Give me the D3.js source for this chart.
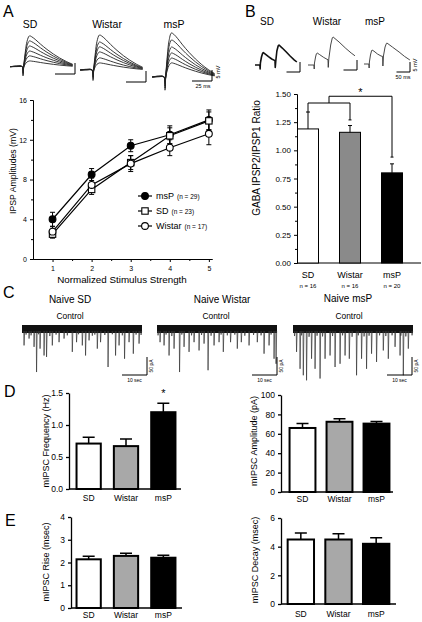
<!DOCTYPE html>
<html><head><meta charset="utf-8">
<script src="https://cdn.jsdelivr.net/npm/d3@7"></script>
<style>
body{margin:0;background:#fff}
svg{display:block}
text{font-family:"Liberation Sans",Arial,sans-serif;fill:#000}
</style>
</head><body>
<svg id="c" width="422" height="622"></svg>
<script>
// ---------------- DATA ----------------
const groups = ["SD", "Wistar", "msP"];

// Panel A: IPSP amplitude vs normalized stimulus strength
const stimStrength = [1, 2, 3, 4, 5];
const stimMinor = [1.5, 2.5, 3.5, 4.5];
const ipspTicks = [0, 4, 8, 12, 16];
const ipspMinorTicks = [2, 6, 10, 14];
const ipspMsP = [4.0, 8.5, 11.4, 12.5, 14.0];
const ipspMsPErr = [0.7, 0.6, 0.6, 0.9, 1.0];
const ipspSD = [2.5, 7.0, 9.7, 12.4, 13.9];
const ipspSDErr = [0.4, 0.5, 0.7, 0.8, 0.9];
const ipspWistar = [2.75, 7.45, 9.6, 11.2, 12.6];
const ipspWistarErr = [0.5, 0.7, 0.8, 0.8, 1.1];
const legendNames = ["msP", "SD", "Wistar"];
const legendN = ["(n = 29)", "(n = 23)", "(n = 17)"];

// Panel A example traces: [ms from onset, normalized amplitude], peak amplitudes (mV)
const traceAShape = [[-16,0],[-8,0.02],[-1,0],[0,-0.3],[1,0.05],[3,0.5],[5,0.82],[8,1.0],[11,0.97],[16,0.87],[22,0.73],[30,0.56],[38,0.41],[46,0.28],[54,0.17],[62,0.08]];
const traceAPeaksSD = [14, 11.7, 9.4, 7.1, 4.9, 2.6];
const traceAPeaksWistar = [15.9, 12.7, 10.5, 8.2, 5.5, 3.2];
const traceAPeaksMsP = [20, 16.8, 13.6, 10.9, 8.6, 6.4];

// Panel B: paired-pulse ratio
const ratioVals = [1.19, 1.16, 0.80];
const ratioErr = [0.15, 0.06, 0.08];
const ratioTicks = [0, 0.25, 0.5, 0.75, 1.0, 1.25, 1.5];
const ratioMinor = [0.125, 0.375, 0.625, 0.875, 1.125, 1.375];
const ratioN = ["n = 16", "n = 16", "n = 20"];
const bracketLevels = [1.42, 1.48];
const bracketMsPEnd = 0.94;

// Panel B example traces: [ms, mV]
const traceBSD = [[0,0],[18,0],[19,-2],[20,1],[24,4],[28,5.8],[31,6.2],[37,5.6],[50,4.2],[62,3],[74,2.2],[75,-1.2],[77,2],[81,7],[86,9.6],[89,10],[100,8.6],[115,6.6],[130,4.5],[145,2.6],[155,1.5]];
const traceBWistar = [[0,0],[22,0],[23,-2],[24,1],[28,4],[31,5.6],[34,6],[42,5.3],[58,3.8],[74,2.6],[75,-1.2],[77,3],[84,10],[90,13.6],[93,14],[115,11.5],[140,8.3],[160,6],[174,4.6]];
const traceBMsP = [[0,0],[18,0],[19,-2],[20,1],[24,4.5],[28,6.6],[30,7],[37,6.4],[50,5],[63,4],[69,3.8],[70,-1],[72,4],[78,8.5],[83,10.3],[85,10.5],[105,8.5],[130,6],[150,3.8],[170,2]];

// Panel C: mIPSC events [sec, pA]
const eventsSD = [[0.7,40],[2.7,21],[4.7,44],[5.7,114],[7.1,49],[8.7,68],[9.7,72],[12,40],[14.7,31],[16.7,21],[20,58],[21.7,31],[24,40],[25.3,68],[26.7,26],[30,49],[31.3,31],[34.3,100],[37.3,68],[38.7,40],[40.9,77],[42.7,31],[44.4,63],[46.7,35]];
const smallSD = [[1.5,10],[3.5,12],[6.5,9],[11,14],[13.5,10],[18,12],[22.5,9],[28,13],[29,10],[33,11],[36,9],[40,12],[45.5,10],[47.5,11]];
const eventsWistar = [[1.1,31],[2.7,40],[4.7,68],[6.7,49],[8.9,114],[10.7,44],[12.7,58],[14.7,31],[16.7,54],[18.7,35],[20.3,109],[22.7,40],[24.7,31],[26.4,58],[29.3,31],[32,49],[33.6,31],[36.7,40],[40,31],[42.7,63],[44.7,40],[46.7,77],[47.5,91]];
const smallWistar = [[0.3,12],[3.5,10],[5.8,14],[9.8,10],[13.7,12],[17.7,11],[21.5,13],[25.5,10],[28,12],[31,10],[35,13],[38.5,11],[41.5,12],[45.5,10]];
const eventsMsP = [[1.3,58],[2.7,105],[4,123],[5.3,137],[7.3,77],[8.7,105],[10.7,132],[12.7,77],[14.7,68],[16.7,100],[18.7,91],[20.7,68],[22.4,77],[25.3,123],[27.3,77],[29.3,105],[31.3,63],[33.3,86],[36,54],[38,77],[40.7,44],[42.7,68],[44,123],[46,49]];
const smallMsP = [[0.5,14],[3.3,12],[6.3,16],[9.5,13],[11.7,15],[15.7,14],[19.7,12],[23.5,16],[26,12],[28.3,15],[30.3,13],[34.5,12],[37,14],[39.5,12],[43,13],[45,15],[47.5,12]];

// Panels D and E
const freqVals = [0.71, 0.67, 1.20];
const freqErr = [0.10, 0.11, 0.14];
const freqTicks = [0, 0.5, 1.0, 1.5];
const ampVals = [66, 72.4, 70.5];
const ampErr = [4.5, 3.0, 2.3];
const ampTicks = [0, 20, 40, 60, 80, 100];
const riseVals = [2.14, 2.29, 2.21];
const riseErr = [0.13, 0.12, 0.11];
const riseTicks = [0, 1, 2, 3, 4];
const decayVals = [4.5, 4.5, 4.2];
const decayErr = [0.45, 0.4, 0.42];
const decayTicks = [0, 2, 4, 6];

// ---------------- DRAWING ----------------
const svg = d3.select("#c");
const F = '"Liberation Sans", Arial, sans-serif';

function txt(parent, x, y, s, size, anchor, extra) {
  const t = parent.append("text").attr("x", x).attr("y", y).attr("font-size", size)
    .attr("text-anchor", anchor || "start").attr("font-family", F).text(s);
  if (extra) extra(t);
  return t;
}
function rtxt(parent, x, y, s, size) {
  return parent.append("text").attr("transform", `translate(${x},${y}) rotate(-90)`)
    .attr("text-anchor", "middle").attr("font-size", size).attr("font-family", F).text(s);
}
function styleAxis(sel, fs, sw) {
  sel.attr("font-size", null).attr("font-family", null);
  sel.selectAll("text").attr("font-size", fs).attr("font-family", F).attr("fill", "#000");
  sel.selectAll("path,line").attr("stroke", "#000").attr("stroke-width", sw);
}

// Panel letters
[["A", 3, 17], ["B", 245, 17], ["C", 3, 298], ["D", 4, 397], ["E", 5, 526]].forEach(d =>
  txt(svg, d[1], d[2], d[0], 16, "start"));

// ===== Panel A traces =====
const gAT = svg.append("g");
[["SD", 30, 28], ["Wistar", 107, 28], ["msP", 174, 28]].forEach(d => txt(gAT, d[1], d[2], d[0], 10.5, "middle"));
function drawTraceA(peaks, onsetX, baseY, barX, barY) {
  const xs = d3.scaleLinear().domain([0, 25]).range([onsetX, onsetX + 20]);
  const ys = d3.scaleLinear().domain([0, 5]).range([baseY, baseY - 11]);
  const line = d3.line().x(d => xs(d[0])).y(d => ys(d[1])).curve(d3.curveCatmullRom);
  peaks.forEach(p => {
    gAT.append("path").attr("d", line(traceAShape.map(s => [s[0], s[1] * p])))
      .attr("fill", "none").attr("stroke", "#222").attr("stroke-width", 0.9);
  });
  const hl = xs(25) - xs(0), vl = ys(0) - ys(5);
  gAT.append("path").attr("d", `M${barX - hl},${barY}H${barX}V${barY - vl}`)
    .attr("fill", "none").attr("stroke", "#000").attr("stroke-width", 1);
}
drawTraceA(traceAPeaksSD, 23, 66.7, 75, 74);
drawTraceA(traceAPeaksWistar, 93, 70, 146, 82);
drawTraceA(traceAPeaksMsP, 165, 77, 212, 81);
txt(gAT, 203, 88, "25 ms", 5.5, "middle");
rtxt(gAT, 220, 72, "5 mV", 5.5);

// ===== Panel A chart =====
const gA = svg.append("g");
const xA = d3.scaleLinear().domain([0.5, 5.08]).range([33, 212]);
const yA = d3.scaleLinear().domain([0, 16]).range([259, 100]);
gA.append("g").attr("transform", "translate(33,0)")
  .call(d3.axisLeft(yA).tickValues(ipspMinorTicks).tickSize(2).tickSizeOuter(0).tickFormat(""))
  .call(s => styleAxis(s, 7, 1));
gA.append("g").attr("transform", "translate(33,0)")
  .call(d3.axisLeft(yA).tickValues(ipspTicks).tickSize(3).tickSizeOuter(0).tickPadding(3).tickFormat(d3.format("d")))
  .call(s => styleAxis(s, 7, 1));
gA.append("g").attr("transform", "translate(0,259)")
  .call(d3.axisBottom(xA).tickValues(stimMinor).tickSize(2).tickSizeOuter(0).tickFormat(""))
  .call(s => styleAxis(s, 7, 1));
gA.append("g").attr("transform", "translate(0,259)")
  .call(d3.axisBottom(xA).tickValues(stimStrength).tickSize(3).tickSizeOuter(0).tickPadding(4).tickFormat(d3.format("d")))
  .call(s => styleAxis(s, 7, 1));
txt(gA, 122, 283, "Normalized Stimulus Strength", 9.8, "middle");
rtxt(gA, 16, 171, "IPSP Amplitudes (mV)", 8.7);

const seriesA = [
  { vals: ipspMsP, errs: ipspMsPErr, shape: "circle", fill: "#000" },
  { vals: ipspSD, errs: ipspSDErr, shape: "square", fill: "#fff" },
  { vals: ipspWistar, errs: ipspWistarErr, shape: "circle", fill: "#fff" }
];
const lineA = d3.line().x((d, i) => xA(stimStrength[i])).y(d => yA(d));
seriesA.forEach(s => {
  gA.append("path").attr("d", lineA(s.vals)).attr("fill", "none").attr("stroke", "#000").attr("stroke-width", 1.2);
});
seriesA.forEach(s => {
  s.vals.forEach((v, i) => {
    const x = xA(stimStrength[i]);
    gA.append("path").attr("d", `M${x},${yA(v - s.errs[i])}V${yA(v + s.errs[i])}M${x - 2.5},${yA(v + s.errs[i])}h5M${x - 2.5},${yA(v - s.errs[i])}h5`)
      .attr("stroke", "#000").attr("stroke-width", 1).attr("fill", "none");
  });
});
function marker(g, shape, x, y, fill) {
  if (shape === "circle") g.append("circle").attr("cx", x).attr("cy", y).attr("r", 3.4).attr("fill", fill).attr("stroke", "#000").attr("stroke-width", 1.1);
  else g.append("rect").attr("x", x - 3.2).attr("y", y - 3.2).attr("width", 6.4).attr("height", 6.4).attr("fill", fill).attr("stroke", "#000").attr("stroke-width", 1.1);
}
seriesA.forEach(s => s.vals.forEach((v, i) => marker(gA, s.shape, xA(stimStrength[i]), yA(v), s.fill)));
// legend
[196, 211, 226].forEach((ly, i) => {
  gA.append("line").attr("x1", 138).attr("x2", 152).attr("y1", ly).attr("y2", ly).attr("stroke", "#000").attr("stroke-width", 1.2);
  marker(gA, seriesA[i].shape, 145, ly, seriesA[i].fill);
  const t = txt(gA, 156, ly + 3.2, legendNames[i], 9, "start");
  t.append("tspan").attr("font-size", 6.5).attr("dx", 3).text(legendN[i]);
});

// ===== Panel B traces =====
const gBT = svg.append("g");
[["SD", 267, 25], ["Wistar", 327, 25], ["msP", 375, 25]].forEach(d => txt(gBT, d[1], d[2], d[0], 10, "middle"));
function drawTraceB(pts, startX, baseY, sw, col, barX, barY) {
  const xs = d3.scaleLinear().domain([0, 50]).range([startX, startX + 13.5]);
  const ys = d3.scaleLinear().domain([0, 5]).range([baseY, baseY - 10]);
  const line = d3.line().x(d => xs(d[0])).y(d => ys(d[1]));
  gBT.append("path").attr("d", line(pts)).attr("fill", "none").attr("stroke", col).attr("stroke-width", sw).attr("stroke-linejoin", "round");
  const hl = xs(50) - xs(0), vl = ys(0) - ys(5);
  gBT.append("path").attr("d", `M${barX - hl},${barY}H${barX}V${barY - vl}`).attr("fill", "none").attr("stroke", "#000").attr("stroke-width", 1);
}
drawTraceB(traceBSD, 255, 65, 1.6, "#111", 300, 72);
drawTraceB(traceBWistar, 308, 65, 0.9, "#333", 357, 70);
drawTraceB(traceBMsP, 364, 64, 0.9, "#333", 410, 72);
txt(gBT, 403, 79, "50 ms", 5.5, "middle");
rtxt(gBT, 417, 65, "5 mV", 5.5);

// ===== Panel B chart =====
const gB = svg.append("g");
const yB = d3.scaleLinear().domain([0, 1.5]).range([263, 94]);
const xB = d3.scaleBand().domain(groups).range([287, 413]).paddingInner(0.5).paddingOuter(0.25);
gB.append("g").attr("transform", "translate(297,0)")
  .call(d3.axisLeft(yB).tickValues(ratioMinor).tickSize(2).tickSizeOuter(0).tickFormat(""))
  .call(s => styleAxis(s, 8, 1));
gB.append("g").attr("transform", "translate(297,0)")
  .call(d3.axisLeft(yB).tickValues(ratioTicks).tickSize(3).tickSizeOuter(0).tickPadding(3).tickFormat(d3.format(".2f")))
  .call(s => styleAxis(s, 8, 1));
gB.append("line").attr("x1", 297).attr("x2", 421).attr("y1", yB(0)).attr("y2", yB(0)).attr("stroke", "#000").attr("stroke-width", 1);
const fillsB = ["#ffffff", "#8a8a8a", "#000000"];
groups.forEach((gname, i) => {
  const x = xB(gname), w = xB.bandwidth(), c = x + w / 2;
  gB.append("rect").attr("x", x).attr("y", yB(ratioVals[i])).attr("width", w).attr("height", yB(0) - yB(ratioVals[i]))
    .attr("fill", fillsB[i]).attr("stroke", "#000").attr("stroke-width", 1);
  gB.append("path").attr("d", `M${c},${yB(ratioVals[i])}V${yB(ratioVals[i] + ratioErr[i])}M${c - 2},${yB(ratioVals[i] + ratioErr[i])}h4`)
    .attr("stroke", "#000").attr("stroke-width", 1).attr("fill", "none");
  txt(gB, c, 278, gname, 9, "middle");
  txt(gB, c, 288, ratioN[i], 6, "middle");
});
{
  const cSD = xB("SD") + xB.bandwidth() / 2, cW = xB("Wistar") + xB.bandwidth() / 2, cM = xB("msP") + xB.bandwidth() / 2;
  const mid = (cSD + cW) / 2;
  gB.append("path").attr("d",
    `M${cSD},${yB(ratioVals[0] + ratioErr[0])}V${yB(bracketLevels[0])}H${cW}V${yB(ratioVals[1] + ratioErr[1] + 0.05)}` +
    `M${cW - 1.5},${yB(ratioVals[1] + ratioErr[1] + 0.05)}h3` +
    `M${mid},${yB(bracketLevels[0])}V${yB(bracketLevels[1])}H${cM}V${yB(bracketMsPEnd)}M${cM - 1.5},${yB(bracketMsPEnd)}h3`)
    .attr("fill", "none").attr("stroke", "#000").attr("stroke-width", 1);
  txt(gB, (mid + cM) / 2, 96, "*", 11, "middle");
}
rtxt(gB, 260, 158, "GABA IPSP2/IPSP1 Ratio", 10);

// ===== Panel C =====
const gC = svg.append("g");
[["Naive SD", 70, 303], ["Naive Wistar", 222, 303], ["Naive msP", 348, 302]].forEach(d => txt(gC, d[1], d[2], d[0], 10, "middle"));
[["Control", 70, 319], ["Control", 216, 319], ["Control", 349, 319]].forEach(d => txt(gC, d[1], d[2], d[0], 8.4, "middle"));
function drawTraceC(events, small, x0, barX) {
  const xs = d3.scaleLinear().domain([0, 48]).range([x0, x0 + 120]);
  const ys = d3.scaleLinear().domain([0, 50]).range([331, 349]);
  gC.append("rect").attr("x", xs(0)).attr("y", 325).attr("width", xs(48) - xs(0)).attr("height", 8).attr("fill", "#111");
  small.concat(events).forEach(e => {
    gC.append("path").attr("d", `M${xs(e[0])},${ys(0)}L${xs(e[0]) + 0.3},${ys(e[1])}L${xs(e[0]) + 0.9},${ys(0)}`)
      .attr("fill", "none").attr("stroke", "#333").attr("stroke-width", 0.7);
  });
  const hl = xs(10) - xs(0), vl = ys(50) - ys(0);
  gC.append("path").attr("d", `M${barX - hl},375H${barX}V${375 - vl}`).attr("fill", "none").attr("stroke", "#000").attr("stroke-width", 1);
  txt(gC, barX - hl / 2, 382, "10 sec", 5, "middle");
  rtxt(gC, barX + 6, 366, "50 pA", 5);
}
drawTraceC(eventsSD, smallSD, 22, 147);
drawTraceC(eventsWistar, smallWistar, 157, 277);
drawTraceC(eventsMsP, smallMsP, 293, 412);

// ===== Panels D & E bar charts =====
const fillsD = ["#ffffff", "#a8a8a8", "#000000"];
function barPanel(o) {
  const g = svg.append("g");
  const y = d3.scaleLinear().domain([o.ticks[0], o.ticks[o.ticks.length - 1]]).range(o.yRange);
  const x = d3.scaleBand().domain(groups).range(o.xRange).paddingInner(o.pad).paddingOuter(o.pad / 2);
  g.append("g").attr("transform", `translate(${o.axisX},0)`)
    .call(d3.axisLeft(y).tickValues(o.ticks).tickSize(3).tickSizeOuter(0).tickPadding(3).tickFormat(o.fmt))
    .call(s => styleAxis(s, 8.5, 1.3));
  g.append("line").attr("x1", o.axisX).attr("x2", o.axisEnd).attr("y1", y(0)).attr("y2", y(0)).attr("stroke", "#000").attr("stroke-width", 1.3);
  groups.forEach((gname, i) => {
    const bx = x(gname), w = x.bandwidth(), c = bx + w / 2;
    const v = o.vals[i], e = o.errs[i];
    g.append("path").attr("d", `M${c},${y(v)}V${y(v + e)}M${c - 6},${y(v + e)}h12`)
      .attr("stroke", "#000").attr("stroke-width", 1.5).attr("fill", "none");
    g.append("rect").attr("x", bx).attr("y", y(v)).attr("width", w).attr("height", y(0) - y(v))
      .attr("fill", fillsD[i]).attr("stroke", "#000").attr("stroke-width", 2);
    txt(g, c, o.labelY, gname, 8.5, "middle");
  });
  rtxt(g, o.titleX, o.titleY, o.title, 9);
  return { g, x, y };
}
const pD1 = barPanel({ ticks: freqTicks, fmt: d3.format(".1f"), vals: freqVals, errs: freqErr, yRange: [489, 393], xRange: [70, 182], pad: 0.35, axisX: 69, axisEnd: 181, labelY: 501, title: "mIPSC Frequency (Hz)", titleX: 49, titleY: 441 });
txt(pD1.g, pD1.x("msP") + pD1.x.bandwidth() / 2, 397, "*", 11, "middle");
barPanel({ ticks: ampTicks, fmt: d3.format("d"), vals: ampVals, errs: ampErr, yRange: [492, 395], xRange: [284, 395], pad: 0.3, axisX: 281, axisEnd: 393, labelY: 502, title: "mIPSC Amplitude (pA)", titleX: 257, titleY: 441 });
barPanel({ ticks: riseTicks, fmt: d3.format("d"), vals: riseVals, errs: riseErr, yRange: [608, 517], xRange: [70, 182], pad: 0.35, axisX: 71, axisEnd: 182, labelY: 618, title: "mIPSC Rise (msec)", titleX: 49, titleY: 562 });
barPanel({ ticks: decayTicks, fmt: d3.format("d"), vals: decayVals, errs: decayErr, yRange: [604, 518], xRange: [282, 395], pad: 0.3, axisX: 281, axisEnd: 396, labelY: 617, title: "mIPSC Decay (msec)", titleX: 258, titleY: 560 });
</script>
</body></html>
